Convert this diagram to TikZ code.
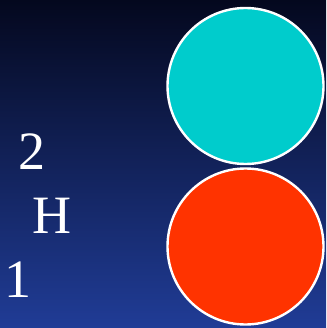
\documentclass[tikz,border=0pt]{standalone}
\usepackage{fontspec}
\setmainfont{Liberation Serif}
\usetikzlibrary{positioning}
\definecolor{bgtop}{RGB}{4,8,30}
\definecolor{bgbottom}{RGB}{32,60,150}
\definecolor{ballcyan}{RGB}{0,204,204}
\definecolor{ballred}{RGB}{255,51,0}
\tikzset{
  ball/.style={
    circle,
    draw=white,
    line width=2.4pt,
    minimum size=156pt,
    inner sep=0pt
  },
  digit/.style={
    text=white,
    font=\fontsize{54}{60}\selectfont,
    inner sep=0pt
  }
}
\begin{document}
\begin{tikzpicture}[x=1pt, y=-1pt]
  % 背景渐变
  \shade[top color=bgtop, bottom color=bgbottom] (0,0) rectangle (326,328);
  \useasboundingbox (0,0) rectangle (326,328);

  % 两个小球
  \node[ball, fill=ballcyan] (top ball) at (245.5,86) {};
  \node[ball, fill=ballred] (bottom ball) at (245.5,246.5) {};

  % 左侧文字
  \node[digit] (label two) at (32,152) {2};
  \node[digit] (label h) at (52,216) {H};
  \node[digit] (label one) at (18,280) {1};
\end{tikzpicture}
\end{document}
